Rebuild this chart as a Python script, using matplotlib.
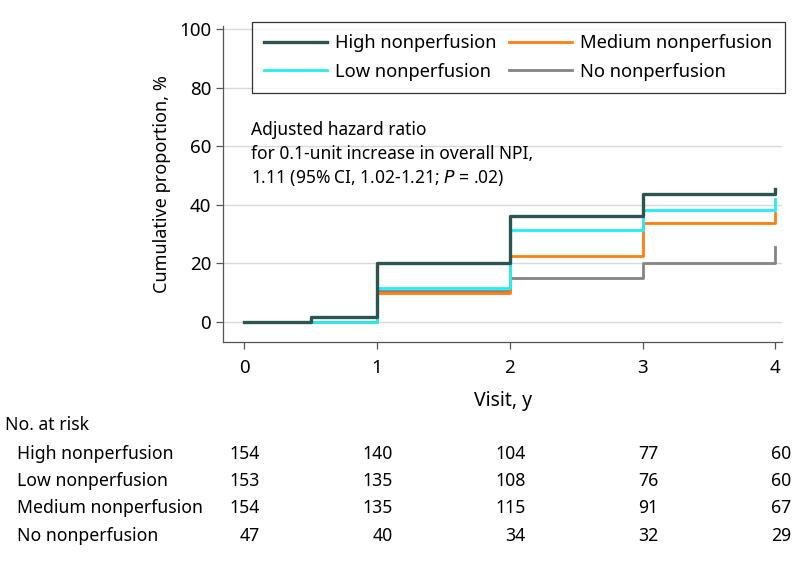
import matplotlib
matplotlib.use("Agg")
import matplotlib.pyplot as plt
from matplotlib.transforms import blended_transform_factory

plt.rcParams['font.family'] = ['Noto Sans', 'DejaVu Sans']

groups = ["High nonperfusion", "Low nonperfusion", "Medium nonperfusion", "No nonperfusion"]
colors = ["#2c5552", "#1ff0f5", "#ff7f0e", "#848484"]

high_t = [0, 0.5, 1, 2, 3, 4, 4]
high_v = [0, 1.6, 20.2, 36.1, 43.8, 45.5, 45.5]
low_t = [0, 1, 2, 3, 4, 4]
low_v = [0, 11.7, 31.3, 38.4, 42.0, 42.0]
med_t = [0, 1, 2, 3, 4, 4]
med_v = [0, 10.0, 22.5, 33.8, 37.3, 37.3]
no_t = [0, 1, 2, 3, 4, 4]
no_v = [0, 10.6, 15.1, 20.3, 25.6, 25.6]

risk_times = [0, 1, 2, 3, 4]
risk_high = [154, 140, 104, 77, 60]
risk_low = [153, 135, 108, 76, 60]
risk_med = [154, 135, 115, 91, 67]
risk_no = [47, 40, 34, 32, 29]

xticks = [0, 1, 2, 3, 4]
yticks = [0, 20, 40, 60, 80, 100]

fig = plt.figure(figsize=(7.94, 5.67), dpi=100)
W, H = 794, 567
ax_left, ax_right, ax_top, ax_bot = 223, 782, 26, 342
ax = fig.add_axes([ax_left / W, 1 - ax_bot / H, (ax_right - ax_left) / W, (ax_bot - ax_top) / H])
ax.set_xlim(-0.16, 4.05)
ax.set_ylim(-6.8, 101)

series = [(high_t, high_v), (low_t, low_v), (med_t, med_v), (no_t, no_v)]
order = [3, 2, 1, 0]
lines = {}
for i in order:
    t, v = series[i]
    lw = 2.4 if i == 0 else 2.0
    ln, = ax.step(t, v, where='post', color=colors[i], lw=lw, label=groups[i], zorder=3 + (3 - i))
    lines[i] = ln

ax.set_yticks(yticks)
ax.set_xticks(xticks)
ax.grid(axis='y', color='#d9d9d9', lw=1.0)
ax.grid(axis='x', visible=False)
ax.set_axisbelow(True)
for s in ['top', 'right']:
    ax.spines[s].set_visible(False)
for s in ['left', 'bottom']:
    ax.spines[s].set_color('#555555')
    ax.spines[s].set_linewidth(0.9)
ax.tick_params(axis='both', colors='#555555', labelcolor='black', labelsize=13.5, length=5, width=0.9)
ax.tick_params(axis='x', pad=7)
ax.set_ylabel("Cumulative proportion, %", fontsize=13, labelpad=6)
ax.set_xlabel("Visit, y", fontsize=14, labelpad=10)

leg = ax.legend([lines[0], lines[1], lines[2], lines[3]], groups, ncol=2,
                loc='upper left', bbox_to_anchor=(252 / W, 1 - 22 / H),
                bbox_transform=fig.transFigure, borderaxespad=0, frameon=True, fancybox=False,
                edgecolor='black', fontsize=13.2, handlelength=3.4, columnspacing=0.7,
                handletextpad=0.45, borderpad=0.68, labelspacing=0.56)
leg.get_frame().set_linewidth(0.9)

ytxt = [130, 154, 178]
txts = ["Adjusted hazard ratio", "for 0.1-unit increase in overall NPI,",
        "1.11 (95% CI, 1.02-1.21; $\\it{P}$ = .02)"]
for yy, tx in zip(ytxt, txts):
    fig.text(251 / W, 1 - yy / H, tx, fontsize=12.5, va='center', ha='left')

trans = blended_transform_factory(ax.transData, fig.transFigure)
fig.text(5 / W, 1 - 425 / H, "No. at risk", fontsize=12.7, va='center', ha='left')
rows = [risk_high, risk_low, risk_med, risk_no]
row_y = [454, 481, 508, 536]
for g, r, yy in zip(groups, rows, row_y):
    fig.text(17 / W, 1 - yy / H, g, fontsize=12.7, va='center', ha='left')
    for t, n in zip(risk_times, r):
        ax.text(t + 0.12, 1 - yy / H, str(n), transform=trans, fontsize=12.7,
                va='center', ha='right', clip_on=False)

fig.savefig("out.png", dpi=100)
